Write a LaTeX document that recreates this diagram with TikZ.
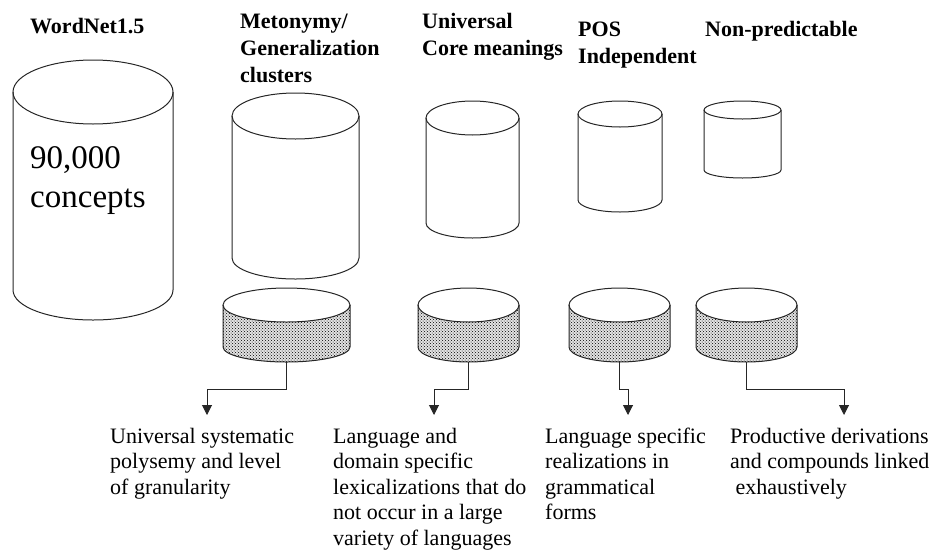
\documentclass[tikz,border=0pt]{standalone}
\usepackage{fontspec}
\setmainfont{Liberation Serif}
\usetikzlibrary{arrows.meta,patterns}
\newcommand\mycyl[6]{%
  \pgfmathsetmacro\cylcx{(#1+#2)/2}%
  \pgfmathsetmacro\cylrx{(#2-#1)/2}%
  \draw[outline] (\cylcx,-#3) ellipse [x radius=\cylrx, y radius=#4];
  \draw[outline] (#1,-#3) -- (#1,-#5) arc[start angle=180,end angle=360,x radius=\cylrx,y radius=#6] -- (#2,-#3);
}
\newcommand\mydisk[7]{%
  \pgfmathsetmacro\cylcx{(#1+#2)/2}%
  \pgfmathsetmacro\cylrx{(#2-#1)/2}%
  \fill[gray!22] (#1,-#3) arc[start angle=180,end angle=360,x radius=\cylrx,y radius=#4]
     -- (#2,-#5) arc[start angle=0,end angle=-180,x radius=\cylrx,y radius=#6] -- cycle;
  \fill[stipple] (#1,-#3) arc[start angle=180,end angle=360,x radius=\cylrx,y radius=#4]
     -- (#2,-#5) arc[start angle=0,end angle=-180,x radius=\cylrx,y radius=#6] -- cycle;
  \draw[outline] (\cylcx,-#3) ellipse [x radius=\cylrx, y radius=#4];
  \draw[outline] (#1,-#3) -- (#1,-#5) arc[start angle=180,end angle=360,x radius=\cylrx,y radius=#6] -- (#2,-#3);
  \coordinate (#7) at (\cylcx,{-#5-#6});
}
\begin{document}
\begin{tikzpicture}[x=1pt,y=1pt,
  outline/.style={line width=1pt, draw=black!85},
  conn/.style={line width=1pt, draw=black!85, -{Triangle[length=10pt,width=10pt]}},
  head/.style={anchor=base west, inner sep=0pt, align=left, font=\fontsize{22}{27}\selectfont\bfseries},
  desc/.style={anchor=base west, inner sep=0pt, align=left, font=\fontsize{22}{25.5}\selectfont},
  big/.style={anchor=base west, inner sep=0pt, align=left, font=\fontsize{33}{39}\selectfont},
  stipple/.style={pattern=crosshatch dots, pattern color=black}]
\useasboundingbox (0,0) rectangle (936,-552);

% headings (anchor = baseline of the last line)
\node[head] (h1) at (30,-33) {WordNet1.5};
\node[head] (h2) at (240,-82) {Metonymy/\\Generalization\\clusters};
\node[head] (h3) at (422,-55) {Universal\\Core meanings};
\node[head] (h4) at (578,-63) {POS\\Independent};
\node[head] (h5) at (705,-36) {Non-predictable};

% cylinders
\mycyl{13}{173}{92}{32}{290}{30}
\node[big] (c1) at (30,-207) {90,000\\concepts};
\mycyl{232}{359}{116}{23}{258}{21}
\mycyl{426}{519}{118}{17}{223}{15}
\mycyl{578}{662}{114}{13}{200}{12}
\mycyl{704}{781}{110}{9}{170}{8}

% disks
\mydisk{223}{350}{305}{17}{347}{15}{d1}
\mydisk{418}{519}{305}{17}{347}{15}{d2}
\mydisk{569}{670}{305}{17}{347}{15}{d3}
\mydisk{696}{797}{305}{17}{347}{15}{d4}

% arrow targets
\coordinate (a1) at (207,-415);
\coordinate (a2) at (434,-415);
\coordinate (a3) at (628,-415);
\coordinate (a4) at (844,-415);

\draw[conn] (d1) -- ++(0,-27) -| (a1);
\draw[conn] (d2) -- ++(0,-27) -| (a2);
\draw[conn] (d3) -- ++(0,-27) -| (a3);
\draw[conn] (d4) -- ++(0,-27) -| (a4);

% descriptions (anchor = baseline of the last line)
\node[desc] (t1) at (110,-494) {Universal systematic\\polysemy and level\\of granularity};
\node[desc] (t2) at (333,-545) {Language and\\domain specific\\lexicalizations that do\\not occur in a large\\variety of languages};
\node[desc] (t3) at (545,-519.5) {Language specific\\realizations in\\grammatical\\forms};
\node[desc] (t4) at (730,-494) {Productive derivations\\and compounds linked\\\ exhaustively};
\end{tikzpicture}
\end{document}
